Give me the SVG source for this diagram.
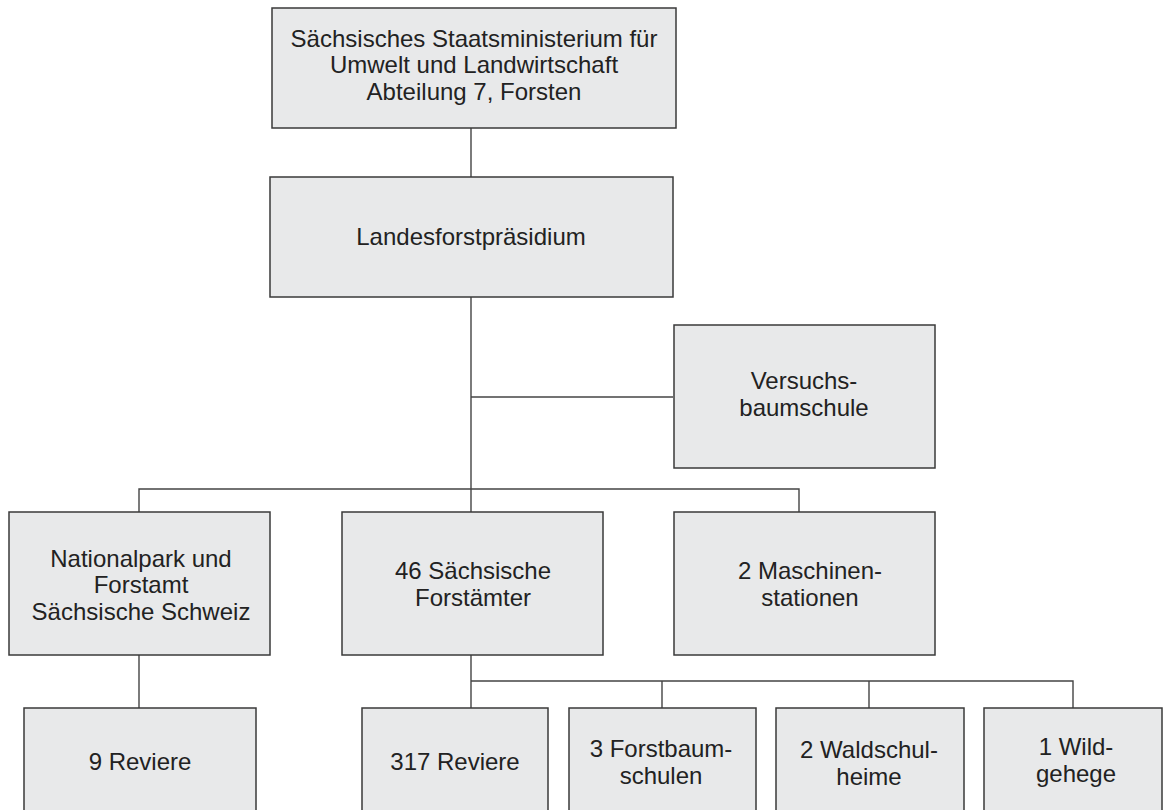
<svg xmlns="http://www.w3.org/2000/svg" width="1164" height="810" viewBox="0 0 1164 810">
<style>
.box{fill:#e8e9ea;stroke:#3a3a3a;stroke-width:1.5}
.ln{fill:none;stroke:#444;stroke-width:1.4}
text{font-family:"Liberation Sans",Arial,sans-serif;font-size:24px;fill:#222;text-anchor:middle}
</style>
<rect width="1164" height="810" fill="#fff"/>
<g id="connectors">
<path class="ln" d="M471,128V177"/>
<path class="ln" d="M471,297V512"/>
<path class="ln" d="M471,397H673"/>
<path class="ln" d="M139,512V489H799V512"/>
<path class="ln" d="M139,655V708"/>
<path class="ln" d="M471,655V708"/>
<path class="ln" d="M471,681H1073V708"/>
<path class="ln" d="M662,681V708"/>
<path class="ln" d="M869,681V708"/>
</g>
<g id="ministerium">
<rect class="box" x="272" y="8" width="404" height="120"/>
<text x="474" y="47">Sächsisches Staatsministerium für</text>
<text x="474" y="73">Umwelt und Landwirtschaft</text>
<text x="474" y="100">Abteilung 7, Forsten</text>
</g>
<g id="landesforstpraesidium">
<rect class="box" x="270" y="177" width="403" height="120"/>
<text x="471" y="245">Landesforstpräsidium</text>
</g>
<g id="versuchsbaumschule">
<rect class="box" x="674" y="325" width="261" height="143"/>
<text x="804" y="389">Versuchs-</text>
<text x="804" y="416">baumschule</text>
</g>
<g id="nationalpark">
<rect class="box" x="9" y="512" width="261" height="143"/>
<text x="141" y="567">Nationalpark und</text>
<text x="141" y="593">Forstamt</text>
<text x="141" y="620">Sächsische Schweiz</text>
</g>
<g id="forstaemter">
<rect class="box" x="342" y="512" width="261" height="143"/>
<text x="473" y="579">46 Sächsische</text>
<text x="473" y="606">Forstämter</text>
</g>
<g id="maschinenstationen">
<rect class="box" x="674" y="512" width="261" height="143"/>
<text x="810" y="579">2 Maschinen-</text>
<text x="810" y="606">stationen</text>
</g>
<g id="reviere9">
<rect class="box" x="24" y="708" width="232" height="120"/>
<text x="140" y="770">9 Reviere</text>
</g>
<g id="reviere317">
<rect class="box" x="362" y="708" width="186" height="120"/>
<text x="455" y="770">317 Reviere</text>
</g>
<g id="forstbaumschulen">
<rect class="box" x="569" y="708" width="187" height="120"/>
<text x="661" y="757">3 Forstbaum-</text>
<text x="661" y="784">schulen</text>
</g>
<g id="waldschulheime">
<rect class="box" x="776" y="708" width="188" height="120"/>
<text x="869" y="758">2 Waldschul-</text>
<text x="869" y="785">heime</text>
</g>
<g id="wildgehege">
<rect class="box" x="984" y="708" width="178" height="120"/>
<text x="1076" y="755">1 Wild-</text>
<text x="1076" y="782">gehege</text>
</g>
</svg>
